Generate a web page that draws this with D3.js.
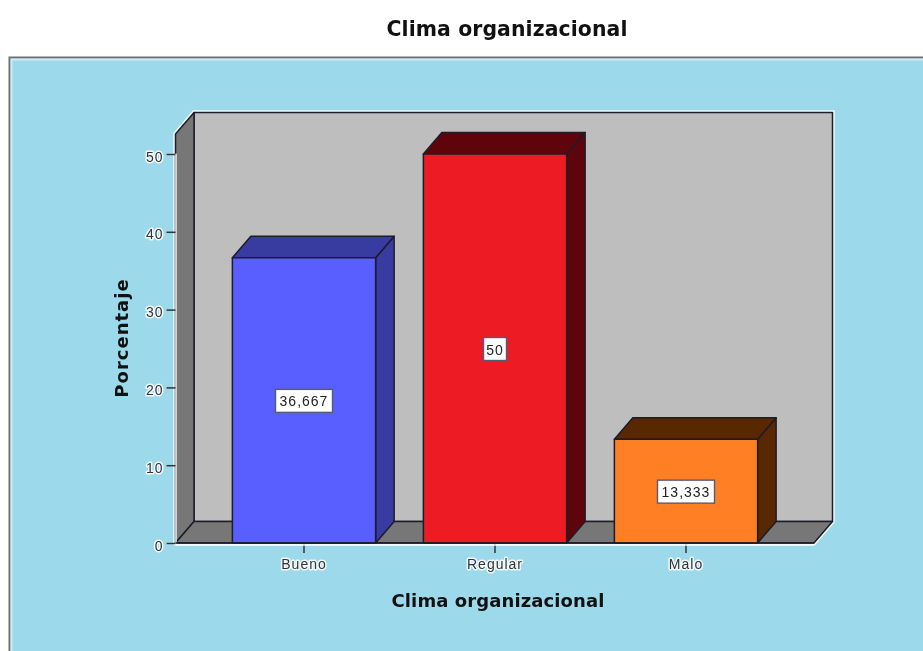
<!DOCTYPE html>
<html><head><meta charset="utf-8">
<script src="https://cdnjs.cloudflare.com/ajax/libs/d3/7.8.5/d3.min.js"></script>
<style>html,body{margin:0;padding:0;background:#fff;overflow:hidden}svg{display:block;filter:blur(.75px)}text{font-family:"DejaVu Sans",sans-serif}</style>
</head><body><script>
const chartTitle = "Clima organizacional";
const xTitle = "Clima organizacional";
const yTitle = "Porcentaje";
const categories = ["Bueno", "Regular", "Malo"];
const values = [36.667, 50, 13.333];
const valueLabels = ["36,667", "50", "13,333"];
const yTicks = [0, 10, 20, 30, 40, 50];
const frontColors = ["#595fff", "#ed1c24", "#ff7f24"];
const sideColors = ["#383b9f", "#60040c", "#5a2800"];

(function () {
const W = 923, H = 651;
const svg = d3.select("body").append("svg").attr("width", W).attr("height", H);

// Frame
svg.append("rect").attr("x", 9.5).attr("y", 57.5).attr("width", W + 20).attr("height", H + 20)
  .attr("fill", "#9cd9ea").attr("stroke", "#6f6f6f").attr("stroke-width", 2);
svg.append("rect").attr("x", 11.5).attr("y", 59.5).attr("width", W + 20).attr("height", H + 20)
  .attr("fill", "none").attr("stroke", "#cfeaf3").attr("stroke-width", 2);

const boldText = (s, size, spacing) => s.attr("text-anchor", "middle").attr("font-size", size)
  .attr("font-weight", "bold").attr("letter-spacing", spacing).attr("fill", "#111");
svg.append("text").attr("x", 507).attr("y", 36).call(boldText, 20.4, 0.1).text(chartTitle);

const y = d3.scaleLinear().domain([0, 50]).range([543, 154]);
const x = d3.scaleBand().domain(categories).range([208.5, 781.5]).paddingInner(0.25).paddingOuter(0.125);
const dx = 18.5, dy = 21.5;
const left = 175.5, right = 814, topY = 134;
const ink = "#1c1c2a";
const poly = (pts, fill, g = svg) => g.append("path").attr("d", d3.line()(pts) + "Z")
  .attr("fill", fill).attr("stroke", ink).attr("stroke-width", 1.5).attr("stroke-linejoin", "round");

// White halo of the box
svg.append("path").attr("d", d3.line()([[left, y(0)], [left, topY], [left + dx, topY - dy], [right + dx, topY - dy], [right + dx, y(0) - dy], [right, y(0)]]) + "Z")
  .attr("fill", "none").attr("stroke", "#f2fbfe").attr("stroke-width", 4.5);
// Back wall, side wall, floor
poly([[left + dx, topY - dy], [right + dx, topY - dy], [right + dx, y(0) - dy], [left + dx, y(0) - dy]], "#bebebe");
poly([[left, topY], [left + dx, topY - dy], [left + dx, y(0) - dy], [left, y(0)]], "#777777");
poly([[left, y(0)], [left + dx, y(0) - dy], [right + dx, y(0) - dy], [right, y(0)]], "#777777");

const smallText = s => s.attr("font-size", 14).style("font-family", "Liberation Sans").attr("letter-spacing", 1);

// Bars
categories.forEach((c, i) => {
  const x0 = x(c), x1 = x0 + x.bandwidth(), yt = y(values[i]), yb = y(0);
  poly([[x1, yb], [x1 + dx, yb - dy], [x1 + dx, yt - dy], [x1, yt]], sideColors[i]);
  poly([[x0, yt], [x0 + dx, yt - dy], [x1 + dx, yt - dy], [x1, yt]], sideColors[i]);
  poly([[x0, yb], [x0, yt], [x1, yt], [x1, yb]], frontColors[i]);
  const cx = (x0 + x1) / 2, cy = (yt + yb) / 2;
  const lw = valueLabels[i].length > 2 ? 57 : 23;
  svg.append("rect").attr("x", cx - lw / 2).attr("y", cy - 11).attr("width", lw).attr("height", 23)
    .attr("fill", "#fff").attr("stroke", "#555a7a").attr("stroke-width", 1.4);
  svg.append("text").attr("x", cx).attr("y", cy + 6).attr("text-anchor", "middle")
    .call(smallText).attr("fill", "#222").text(valueLabels[i]);
});

// Axes
const halo = s => s.attr("paint-order", "stroke").attr("stroke", "#f0fafd").attr("stroke-width", 3).attr("stroke-linejoin", "round");
const yAxis = svg.append("g").attr("transform", `translate(${left},0)`)
  .call(d3.axisLeft(y).tickValues(yTicks).tickSize(9).tickPadding(3).tickFormat(d3.format("d")));
yAxis.select(".domain").attr("stroke", "#f2fbfe").attr("stroke-width", 1.5);
yAxis.selectAll(".tick line").attr("stroke", "#333").attr("stroke-width", 1.5);
yAxis.selectAll("text").call(smallText).attr("fill", "#333").attr("dy", "0.5em").call(halo);

const xAxis = svg.append("g").attr("transform", `translate(0,${y(0)})`)
  .call(d3.axisBottom(x).tickSize(10).tickPadding(6));
xAxis.select(".domain").remove();
xAxis.selectAll(".tick line").attr("stroke", "#333").attr("stroke-width", 1.5);
xAxis.selectAll("text").call(smallText).attr("fill", "#333").call(halo);
svg.append("line").attr("x1", left).attr("x2", right).attr("y1", y(0)).attr("y2", y(0)).attr("stroke", ink).attr("stroke-width", 1.6);
svg.append("line").attr("x1", left).attr("x2", right).attr("y1", y(0) + 2).attr("y2", y(0) + 2).attr("stroke", "#f2fbfe").attr("stroke-width", 1.4);

// Axis titles
svg.append("text").attr("x", 498).attr("y", 607).call(boldText, 18, 0.1).text(xTitle);
svg.append("text").attr("transform", "translate(128,338) rotate(-90)").call(boldText, 18, 1).text(yTitle);
})();
</script></body></html>
